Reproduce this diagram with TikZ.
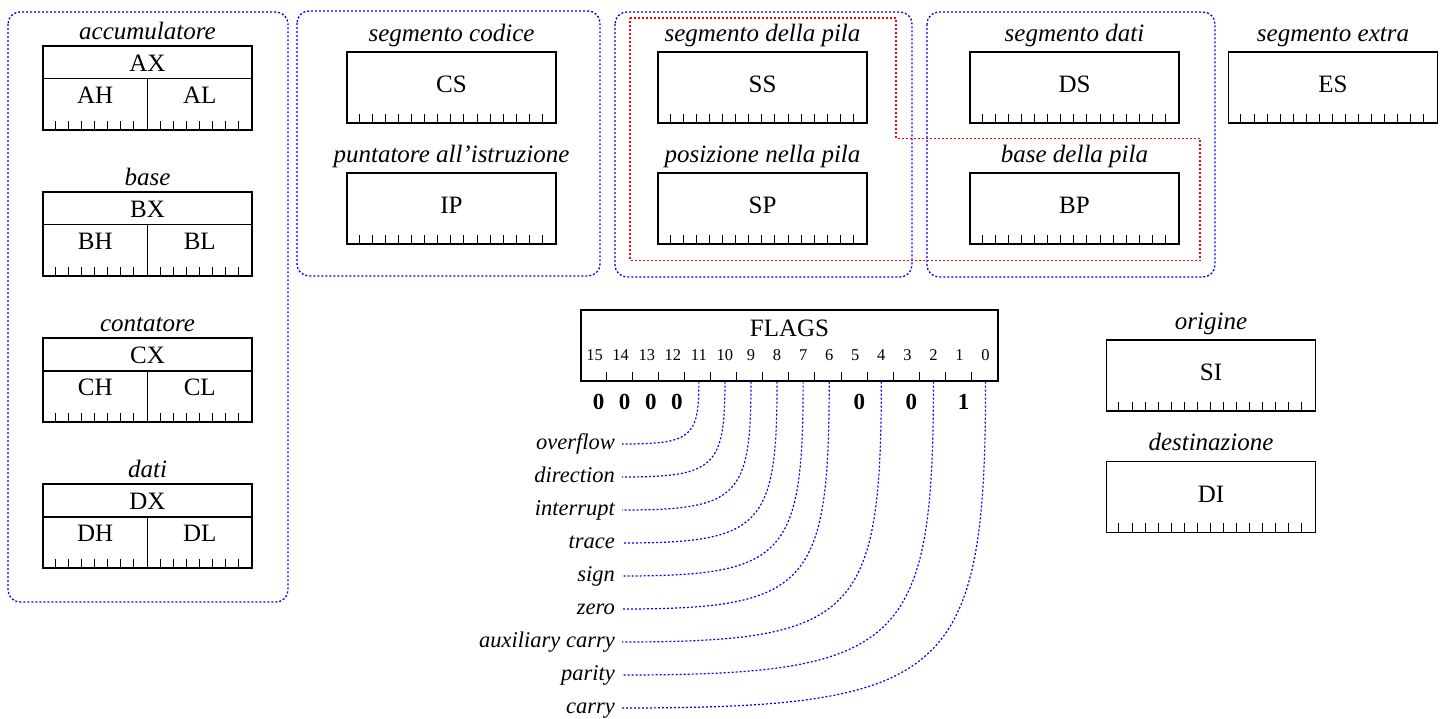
\documentclass[tikz,border=0pt]{standalone}
\usepackage{fontspec}
\setmainfont{Liberation Serif}
\usetikzlibrary{calc}

\tikzset{
  reg/.style={draw, line width=1.2pt, minimum width=209pt, minimum height=71pt, inner sep=0pt},
  regpair/.style={reg, minimum height=84pt},
  regname/.style={font=\fontsize{25}{30}\selectfont, anchor=base, inner sep=0pt},
  grp/.style={font=\fontsize{25}{30}\selectfont\itshape, anchor=base, inner sep=0pt},
  tick/.style={line width=1pt},
  group/.style={blue, line width=1.3pt, dash pattern=on 2pt off 2pt, rounded corners=12pt},
  stack/.style={red, line width=1.3pt, dash pattern=on 2pt off 2pt},
  bitnum/.style={font=\fontsize{16.5}{20}\selectfont, anchor=base, inner sep=0pt},
  bitval/.style={font=\fontsize{23}{28}\selectfont\bfseries, anchor=base, inner sep=0pt},
  flagname/.style={font=\fontsize{22.5}{27}\selectfont\itshape, anchor=east,
    text height=14pt, text depth=4pt, inner ysep=0pt, inner xsep=7pt},
  flagline/.style={blue, line width=1.2pt, dash pattern=on 2pt off 2pt}
}

\begin{document}
\begin{tikzpicture}[x=1pt, y=-1pt]
  \useasboundingbox (0,0) rectangle (1445,719);

  % gruppi
  \draw[group] (8,12) rectangle (288,602);
  \draw[group] (297,11) rectangle (600,276);
  \draw[group] (615,12) rectangle (912,277);
  \draw[group] (927,12) rectangle (1215,277);
  \draw[stack] (630,18) -- (896,18) -- (896,138.5) -- (1200,138.5)
    -- (1200,260.5) -- (630,260.5) -- cycle;

  % registri generali
  \foreach \r/\y/\lab in {A/88/accumulatore, B/234/base, C/380/contatore, D/526/dati} {
    \node[regpair] (\r X) at (147.5,\y) {};
    \node[grp] (\r lab) at ($(\r X.north)+(0,-6)$) {\lab};
    \draw[line width=1.2pt] ($(\r X.north west)+(0,33.5)$) -- ($(\r X.north east)+(0,33.5)$);
    \draw[line width=1.2pt] ($(\r X.north)+(0,33.5)$) -- (\r X.south);
    \node[regname] (\r Xn) at ($(\r X.north)+(0,26)$) {\r X};
    \node[regname] (\r H) at ($(\r X.north)+(-52.25,58.5)$) {\r H};
    \node[regname] (\r L) at ($(\r X.north)+(52.25,58.5)$) {\r L};
    \foreach \i in {1,...,7} {
      \draw[tick] ($(\r X.south west)+(\i*13.0625,0)$) -- ++(0,-10);
      \draw[tick] ($(\r X.south)+(\i*13.0625,0)$) -- ++(0,-10);
    }
  }

  % registri a 16 bit
  \foreach \r/\x/\y/\lab in {CS/451.5/87.5/segmento codice,
      IP/451.5/208.5/puntatore all'istruzione,
      SS/762.5/87.5/segmento della pila, SP/762.5/208.5/posizione nella pila,
      DS/1074.5/87.5/segmento dati, BP/1074.5/208.5/base della pila,
      ES/1333/87.5/segmento extra, SI/1211/375.5/origine, DI/1211/497/destinazione} {
    \node[reg] (\r) at (\x,\y) {};
    \node[grp] (\r lab) at ($(\r.north)+(0,-10)$) {\lab};
    \node[regname] (\r n) at ($(\r.center)+(0,5)$) {\r};
    \foreach \i in {1,...,15}
      \draw[tick] ($(\r.south west)+(\i*13.0625,0)$) -- ++(0,-10);
  }

  % indicatori
  \node[reg, minimum width=417pt] (FL) at (789.5,345.5) {};
  \node[regname] (FLn) at ($(FL.north)+(0,27)$) {FLAGS};
  \foreach \k in {0,...,15} {
    \coordinate (b\k) at ($(FL.south east)+(-13.03-26.0625*\k,0)$);
    \node[bitnum] (n\k) at ($(b\k)+(0,-21)$) {\k};
  }
  \foreach \i in {1,...,15}
    \draw[tick] ($(FL.south west)+(\i*26.0625,0)$) -- ++(0,-10);
  \foreach \k/\val in {15/0, 14/0, 13/0, 12/0, 5/0, 3/0, 1/1}
    \node[bitval] (v\k) at ($(b\k)+(4,28)$) {\val};

  \foreach \k/\y/\f/\nm in {11/444/overflow/of, 10/477/direction/df,
      9/510/interrupt/if, 8/543/trace/tf, 7/576/sign/sf, 6/609/zero/zf,
      4/642/auxiliary carry/af, 2/675/parity/pf, 0/708/carry/cf} {
    \node[flagname] (\nm) at (622,\y) {\f};
    \coordinate (c\k) at (b\k |- \nm.east);
    \draw[flagline] (b\k) .. controls ($(b\k)!0.9!(c\k)$)
      and ($(\nm.east)!0.9!(c\k)$) .. (\nm.east);
  }
\end{tikzpicture}
\end{document}
